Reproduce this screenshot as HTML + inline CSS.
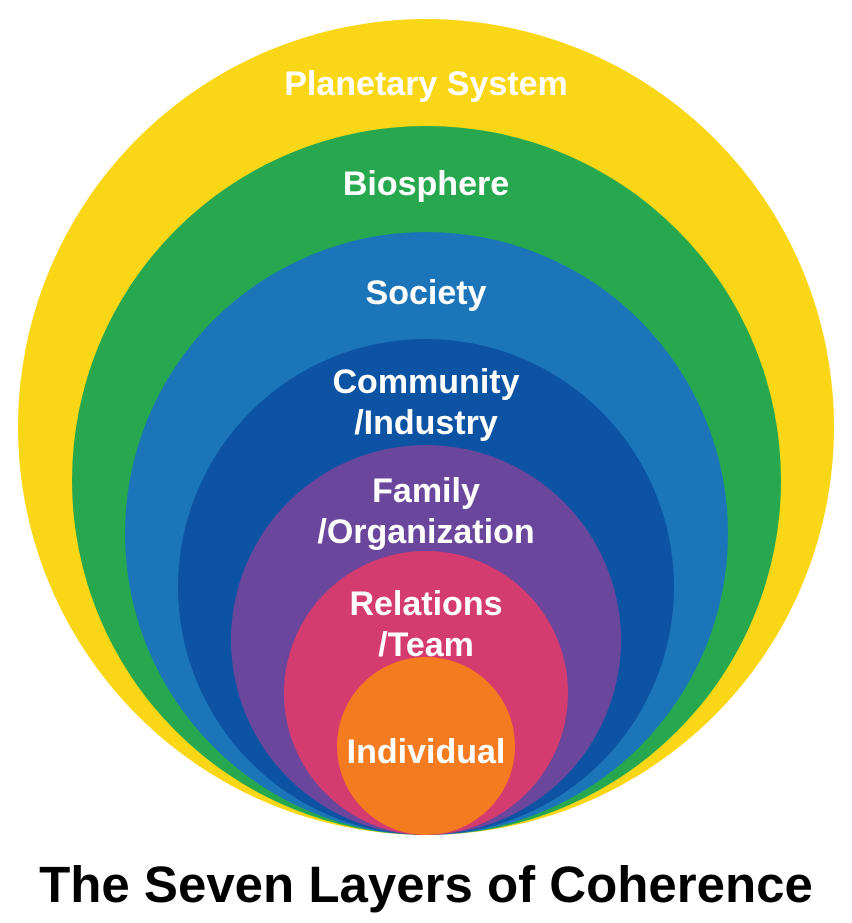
<!DOCTYPE html>
<html><head><meta charset="utf-8"><style>
html,body{margin:0;padding:0;background:#fff;}
svg{display:block}
text{font-family:"Liberation Sans",Arial,sans-serif;font-weight:bold;text-anchor:middle;}
</style></head><body>
<svg width="852" height="923" viewBox="0 0 852 923" xmlns="http://www.w3.org/2000/svg">
<rect width="852" height="923" fill="#fff"/>
<circle cx="426" cy="427" r="408" fill="#F9D616"/>
<circle cx="426.5" cy="480.5" r="354.5" fill="#27A84F"/>
<circle cx="426.5" cy="533.5" r="301.5" fill="#1B75B8"/>
<circle cx="426" cy="587" r="248" fill="#0C53A3"/>
<circle cx="426" cy="640" r="195" fill="#6A479C"/>
<circle cx="426" cy="693" r="142" fill="#D43B6E"/>
<circle cx="426" cy="746" r="89" fill="#F47B20"/>
<g fill="#fff" font-size="34">
<text x="426" y="95">Planetary System</text>
<text x="426" y="195">Biosphere</text>
<text x="426" y="304">Society</text>
<text x="426" y="393">Community</text>
<text x="426" y="434">/Industry</text>
<text x="426" y="502">Family</text>
<text x="426" y="543">/Organization</text>
<text x="426" y="615">Relations</text>
<text x="426" y="656">/Team</text>
<text x="426" y="763">Individual</text>
</g>
<text x="426" y="902" font-size="51" fill="#000">The Seven Layers of Coherence</text>
</svg>
</body></html>
